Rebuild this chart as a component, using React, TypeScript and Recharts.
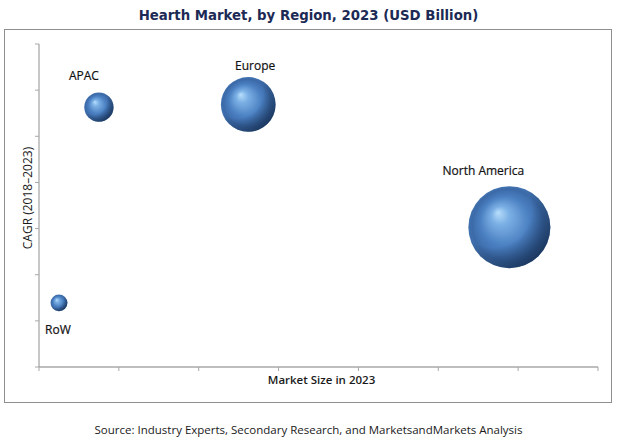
import React from 'react';
import { ScatterChart, Scatter, XAxis, YAxis, ZAxis, LabelList } from 'recharts';

// ---- data ----
const regions = ['APAC', 'Europe', 'North America', 'RoW'];
const marketSize = [0.75, 2.62, 5.89, 0.25];
const cagr = [5.63, 5.69, 3.03, 1.39];
const axisTicks = [0, 1, 2, 3, 4, 5, 6, 7];

const data = regions.map((name, i) => ({ name, x: marketSize[i], y: cagr[i], z: marketSize[i] }));

// label placement relative to bubble (layout only)
const labelOffsets: Record<string, { dx: number; dy: number; below?: boolean }> = {
  APAC: { dx: -15, dy: -17 },
  Europe: { dx: 7, dy: -12 },
  'North America': { dx: -26, dy: -16 },
  RoW: { dx: -1, dy: 18, below: true },
};

const FONT = '"Open Sans", "Noto Sans", sans-serif';

const Sphere = (props: any) => {
  const { cx, cy, width } = props;
  const r = width / 2;
  return (
    <g>
      <circle cx={cx} cy={cy} r={r} fill="url(#sphereGrad)" />
      <circle cx={cx} cy={cy} r={r} fill="url(#sphereShade)" />
    </g>
  );
};

const RegionLabel = (props: any) => {
  const { x, y, width, height, value } = props;
  const cx = x + width / 2;
  const cy = y + height / 2;
  const r = width / 2;
  const o = labelOffsets[value] || { dx: 0, dy: -12 };
  const ty = o.below ? cy + r + o.dy : cy - r + o.dy;
  return (
    <text
      x={cx + o.dx}
      y={ty}
      textAnchor="middle"
      dominantBaseline="central"
      fontFamily={FONT}
      fontSize={12}
      fill="#111"
      stroke="#111"
      strokeWidth={0.2}
    >
      {value}
    </text>
  );
};

export default function App() {
  return (
    <div style={{ position: 'absolute', left: 0, top: 0, width: 617, height: 444, background: '#fff' }}>
      <div
        style={{
          position: 'absolute',
          left: 0,
          top: 7,
          width: 617,
          textAlign: 'center',
          fontFamily: '"DejaVu Sans", Verdana, sans-serif',
          fontWeight: 'bold',
          fontSize: 13.3,
          color: '#1c2a55',
          lineHeight: '18px',
        }}
      >
        Hearth Market, by Region, 2023 (USD Billion)
      </div>
      <div
        style={{
          position: 'absolute',
          left: 4,
          top: 29,
          width: 606,
          height: 372,
          border: '1px solid #8f8f8f',
        }}
      />
      <div style={{ position: 'absolute', left: 0, top: 0 }}>
        <ScatterChart width={617} height={444} margin={{ top: 44, right: 19, bottom: 67, left: 29 }}>
          <defs>
            <radialGradient id="sphereGrad" cx="50%" cy="50%" r="50%" fx="36%" fy="32%">
              <stop offset="0%" stopColor="#b8defb" />
              <stop offset="22%" stopColor="#7bb0e5" />
              <stop offset="60%" stopColor="#4a7fc1" />
              <stop offset="88%" stopColor="#3c6aa8" />
              <stop offset="100%" stopColor="#4272b0" />
            </radialGradient>
            <radialGradient id="sphereShade" cx="30%" cy="28%" r="85%">
              <stop offset="55%" stopColor="#0d2240" stopOpacity={0} />
              <stop offset="82%" stopColor="#0d2240" stopOpacity={0.5} />
              <stop offset="100%" stopColor="#0d2240" stopOpacity={0.85} />
            </radialGradient>
          </defs>
          <XAxis
            type="number"
            dataKey="x"
            domain={[0, 7]}
            ticks={axisTicks}
            height={10}
            tickSize={4}
            tickFormatter={() => ''}
            stroke="#a8a8a8"
            axisLine={{ stroke: '#a8a8a8', strokeWidth: 1.5 }}
            tickLine={{ stroke: '#a8a8a8' }}
          />
          <YAxis
            type="number"
            dataKey="y"
            domain={[0, 7]}
            ticks={axisTicks}
            width={10}
            tickSize={4}
            tickFormatter={() => ''}
            stroke="#a8a8a8"
            axisLine={{ stroke: '#8f8f8f', strokeWidth: 1 }}
            tickLine={{ stroke: '#a8a8a8' }}
          />
          <ZAxis type="number" dataKey="z" domain={[0, 5.89]} range={[0, 5281]} />
          <Scatter data={data} shape={<Sphere />} isAnimationActive={false}>
            <LabelList dataKey="name" content={<RegionLabel />} />
          </Scatter>
        </ScatterChart>
      </div>
      <div
        style={{
          position: 'absolute',
          left: 0,
          top: 372,
          width: 617,
          paddingLeft: 26,
          boxSizing: 'border-box',
          textAlign: 'center',
          fontFamily: FONT,
          fontSize: 11.5,
          fontWeight: 600,
          color: '#1a1a1a',
          lineHeight: '16px',
        }}
      >
        Market Size in 2023
      </div>
      <div
        style={{
          position: 'absolute',
          left: 28,
          top: 198,
          transform: 'translate(-50%, -50%) rotate(-90deg)',
          whiteSpace: 'nowrap',
          fontFamily: FONT,
          fontSize: 12,
          color: '#1a1a1a',
          lineHeight: '16px',
        }}
      >
        CAGR (2018–2023)
      </div>
      <div
        style={{
          position: 'absolute',
          left: 0,
          top: 422,
          width: 617,
          textAlign: 'center',
          fontFamily: FONT,
          fontSize: 11.5,
          color: '#1a1a1a',
          lineHeight: '16px',
        }}
      >
        Source: Industry Experts, Secondary Research, and MarketsandMarkets Analysis
      </div>
    </div>
  );
}
